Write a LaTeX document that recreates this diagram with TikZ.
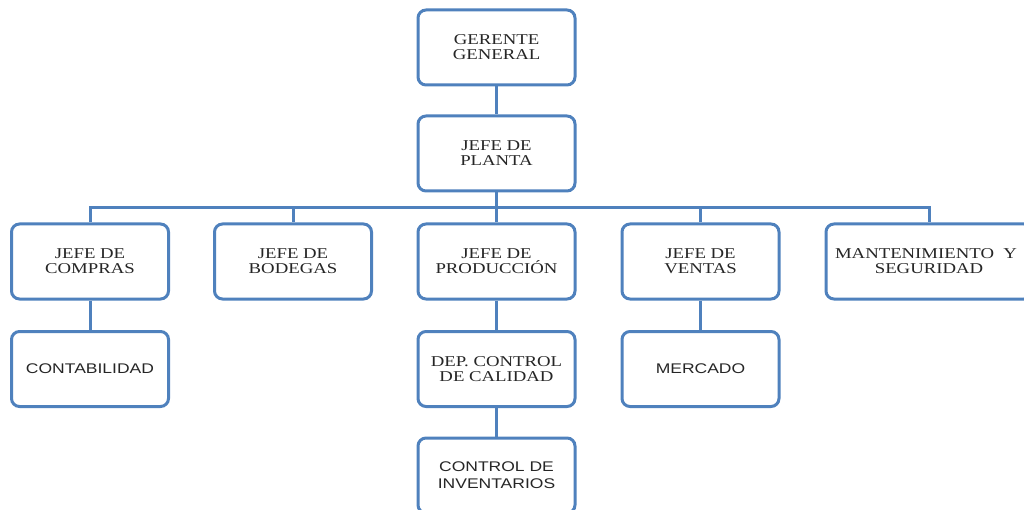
\documentclass[tikz,border=0pt]{standalone}
\usepackage{fontspec}
\newfontfamily\orgserif[FakeStretch=1.25]{Liberation Serif}
\newfontfamily\orgsans[FakeStretch=1.25]{Liberation Sans}
\definecolor{orgblue}{HTML}{4F81BD}
\begin{document}
\begin{tikzpicture}[x=1pt,y=-1pt,
  box/.style={draw=orgblue,line width=3pt,rounded corners=8pt,fill=white,
    minimum width=157pt,minimum height=75pt,inner sep=0pt,align=center,text=black!85},
  stxt/.style={font=\orgserif\fontsize{15}{15}\selectfont},
  sans/.style={font=\orgsans\fontsize{14}{17}\selectfont},
  link/.style={draw=orgblue,line width=3pt}]
\useasboundingbox (0,0) rectangle (1024,510);
\clip (0,0) rectangle (1024,510);
\node[box,stxt] (g) at (496.5,47.5) {GERENTE\\GENERAL};
\node[box,stxt] (p) at (496.5,153.5) {JEFE DE\\PLANTA};
\node[box,stxt] (c1) at (90,261.5) {JEFE DE\\COMPRAS};
\node[box,stxt] (c2) at (293,261.5) {JEFE DE\\BODEGAS};
\node[box,stxt] (c3) at (496.5,261.5) {JEFE DE\\PRODUCCIÓN};
\node[box,stxt] (c4) at (700.5,261.5) {JEFE DE\\VENTAS};
\node[box,stxt,minimum width=206pt] (c5) at (929,261.5) {\hspace*{-6pt}MANTENIMIENTO\ \ Y\\SEGURIDAD};
\node[box,sans] (d1) at (90,369) {CONTABILIDAD};
\node[box,stxt] (d3) at (496.5,369) {DEP. CONTROL\\DE CALIDAD};
\node[box,sans] (d4) at (700.5,369) {MERCADO};
\node[box,sans] (e3) at (496.5,475.5) {CONTROL DE\\INVENTARIOS};
\coordinate (bus) at (0,208);
\draw[link] (g) -- (p);
\draw[link] (p) -- (p |- bus);
\draw[link,line cap=rect] (c1 |- bus) -- (c5 |- bus);
\foreach \n in {c1,c2,c3,c4,c5}{\draw[link] (\n |- bus) -- (\n);}
\draw[link] (c1) -- (d1);
\draw[link] (c3) -- (d3);
\draw[link] (d3) -- (e3);
\draw[link] (c4) -- (d4);
\end{tikzpicture}
\end{document}
